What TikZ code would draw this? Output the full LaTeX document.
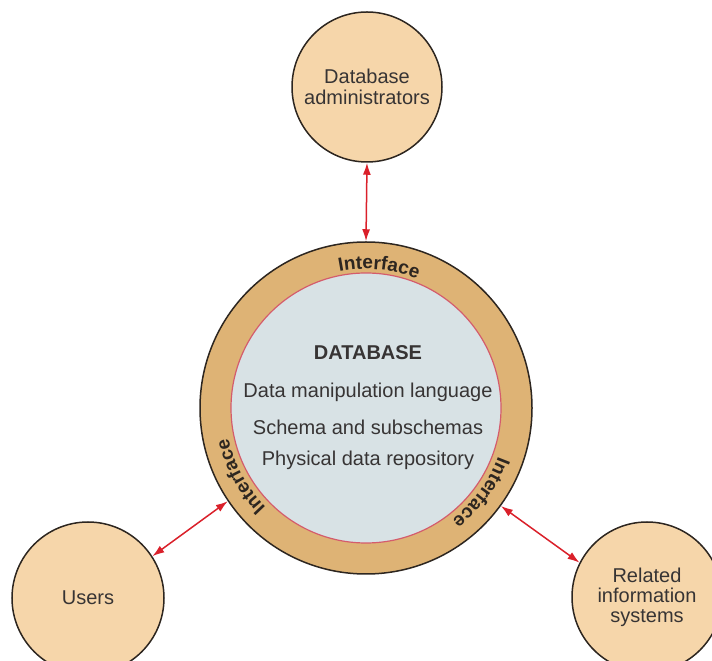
\documentclass[tikz,border=0pt]{standalone}
\usepackage{fontspec}
\setmainfont{Liberation Sans}
\usetikzlibrary{arrows.meta,decorations.text}

\definecolor{peach}{RGB}{246,214,170}
\definecolor{ringtan}{RGB}{222,179,117}
\definecolor{corefill}{RGB}{216,226,229}
\definecolor{corepink}{RGB}{212,92,108}
\definecolor{edgedark}{RGB}{45,38,32}
\definecolor{txtgray}{RGB}{55,52,52}
\definecolor{linkred}{RGB}{218,32,42}

\begin{document}
\begin{tikzpicture}[x=1pt, y=1pt,
        actor/.style={circle, draw=edgedark, line width=1.5pt, fill=peach, minimum size=150pt, inner sep=0pt, align=center, text=txtgray, font=\fontsize{20}{21}\selectfont},
        dbline/.style={text=txtgray, font=\fontsize{20}{24}\selectfont},
        link/.style={draw=linkred, line width=1.5pt, {Latex[length=12pt,width=8pt]}-{Latex[length=12pt,width=8pt]}},
        ringlabel/.style={decorate, decoration={text along path, text align=center, text color=edgedark, text={|\fontsize{19}{19}\bfseries\selectfont|Interface}}}]
    \useasboundingbox (0,0) rectangle (712,661);

    % Anneau et noyau
    \node[circle, draw=edgedark, line width=1.5pt, fill=ringtan, minimum size=332pt, inner sep=0pt] (db) at (366,253) {};
    \node[circle, draw=corepink, line width=1.2pt, fill=corefill, minimum size=270pt, inner sep=0pt] (core) at (db) {};

    \node[dbline, font=\fontsize{20}{24}\bfseries\selectfont] (dbtitle) at (368,308) {DATABASE};
    \node[dbline] (dbdml) at (368,269) {Data manipulation language};
    \node[dbline] (dbschema) at (368,234) {Schema and subschemas};
    \node[dbline] (dbstore) at (368,201) {Physical data repository};

    \path[ringlabel] (db.center) ++(124.7:139) arc[start angle=124.7, end angle=44.7, radius=139];
    \path[ringlabel] (db.center) ++(248.7:141) arc[start angle=248.7, end angle=168.7, radius=141];
    \path[ringlabel] (db.center) ++(3.6:141) arc[start angle=3.6, end angle=-76.4, radius=141];

    \node[actor] (admins) at (367,574) {Database\\administrators};
    \node[actor, minimum size=152pt] (users) at (88,63) {Users};
    \node[actor, font=\fontsize{20}{20}\selectfont] (related) at (647,64) {Related\\information\\systems};

    \draw[link] (admins.south) -- (db.north);
    \draw[link] (users.33) -- (db.214.7);
    \draw[link] (db.-36.7) -- (related.153.7);
\end{tikzpicture}
\end{document}
